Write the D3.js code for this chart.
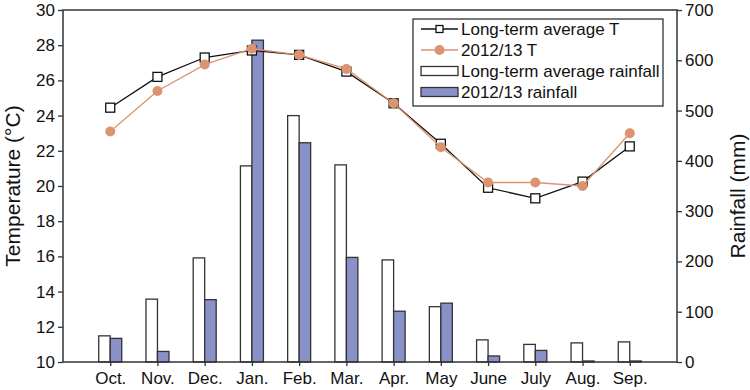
<!DOCTYPE html>
<html>
<head>
<meta charset="utf-8">
<script src="https://cdn.jsdelivr.net/npm/d3@7"></script>
<style>
  body { margin: 0; background: #fff; }
  svg { font-family: "Liberation Sans", Arial, sans-serif; }
</style>
</head>
<body>
<div id="chart"></div>
<script>
// data
const months = ["Oct.", "Nov.", "Dec.", "Jan.", "Feb.", "Mar.", "Apr.", "May", "June", "July", "Aug.", "Sep."]
const tempLongTerm = [24.45, 26.2, 27.3, 27.7, 27.45, 26.5, 24.7, 22.4, 19.9, 19.3, 20.25, 22.25]
const temp2012 = [23.1, 25.4, 26.9, 27.8, 27.45, 26.65, 24.7, 22.2, 20.2, 20.2, 20.0, 23.0]
const rainLongTerm = [52, 125, 207, 390, 490, 392, 203, 110, 44, 35, 38, 40]
const rain2012 = [47, 21, 124, 640, 436, 208, 101, 117, 12, 23, 2, 2]
const tempTicks = [10, 12, 14, 16, 18, 20, 22, 24, 26, 28, 30]
const rainTicks = [0, 100, 200, 300, 400, 500, 600, 700]

const width = 750, height = 390
const margin = { top: 10, right: 73, bottom: 28, left: 63 }
const innerW = width - margin.left - margin.right
const innerH = height - margin.top - margin.bottom

const blue = "#8a90c8"
const orange = "#da9470"
const dark = "#333"

var svg = d3.select("#chart")
    .append("svg")
    .attr("width", width)
    .attr("height", height)

var g = svg.append("g")
    .attr("transform", `translate(${margin.left},${margin.top})`)

var x = d3.scalePoint()
    .domain(months)
    .range([0, innerW])
    .padding(1)

var yT = d3.scaleLinear().domain([10, 30]).range([innerH, 0])
var yR = d3.scaleLinear().domain([0, 700]).range([innerH, 0])

const barW = 11.5

// bars
g.append("g")
    .selectAll("rect")
    .data(months)
    .enter()
    .append("rect")
    .attr("x", d => x(d) - barW)
    .attr("y", (d, i) => yR(rainLongTerm[i]))
    .attr("width", barW)
    .attr("height", (d, i) => innerH - yR(rainLongTerm[i]))
    .attr("fill", "#fff")
    .attr("stroke", dark)
    .attr("stroke-width", 1.3)

g.append("g")
    .selectAll("rect")
    .data(months)
    .enter()
    .append("rect")
    .attr("x", d => x(d))
    .attr("y", (d, i) => yR(rain2012[i]))
    .attr("width", barW)
    .attr("height", (d, i) => innerH - yR(rain2012[i]))
    .attr("fill", blue)
    .attr("stroke", dark)
    .attr("stroke-width", 1.3)

// axes
var fontSize = 17
var leftAxis = g.append("g")
    .call(d3.axisLeft(yT).tickValues(tempTicks).tickSize(5).tickPadding(3))
var rightAxis = g.append("g")
    .attr("transform", `translate(${innerW},0)`)
    .call(d3.axisRight(yR).tickValues(rainTicks).tickSize(5).tickPadding(3))
var bottomAxis = g.append("g")
    .attr("transform", `translate(0,${innerH})`)
    .call(d3.axisBottom(x).tickSize(4).tickPadding(6))

;[leftAxis, rightAxis, bottomAxis].forEach(function (a) {
    a.select(".domain").remove()
    a.selectAll("line").attr("stroke", dark).attr("stroke-width", 1.3)
    a.selectAll("text").attr("fill", "#111").style("font-size", fontSize + "px")
})

// frame
g.append("rect")
    .attr("width", innerW)
    .attr("height", innerH)
    .attr("fill", "none")
    .attr("stroke", dark)
    .attr("stroke-width", 1.5)

// temperature lines
var line = d3.line()
    .x((d, i) => x(months[i]))
    .y(d => yT(d))

g.append("path")
    .datum(tempLongTerm)
    .attr("d", line)
    .attr("fill", "none")
    .attr("stroke", "#111")
    .attr("stroke-width", 1.3)

g.append("g")
    .selectAll("rect")
    .data(tempLongTerm)
    .enter()
    .append("rect")
    .attr("x", (d, i) => x(months[i]) - 4.5)
    .attr("y", d => yT(d) - 4.5)
    .attr("width", 9)
    .attr("height", 9)
    .attr("fill", "#fff")
    .attr("stroke", "#111")
    .attr("stroke-width", 1.3)

g.append("path")
    .datum(temp2012)
    .attr("d", line)
    .attr("fill", "none")
    .attr("stroke", orange)
    .attr("stroke-width", 1.3)

g.append("g")
    .selectAll("circle")
    .data(temp2012)
    .enter()
    .append("circle")
    .attr("cx", (d, i) => x(months[i]))
    .attr("cy", d => yT(d))
    .attr("r", 5)
    .attr("fill", orange)

// axis titles
svg.append("text")
    .attr("transform", "translate(20,186) rotate(-90)")
    .attr("text-anchor", "middle")
    .style("font-size", "21px")
    .attr("fill", "#111")
    .text("Temperature (°C)")

svg.append("text")
    .attr("transform", "translate(745,196) rotate(-90)")
    .attr("text-anchor", "middle")
    .style("font-size", "21px")
    .attr("fill", "#111")
    .text("Rainfall (mm)")

// legend
var legend = svg.append("g").attr("transform", "translate(413,19)")
legend.append("rect")
    .attr("width", 250)
    .attr("height", 87)
    .attr("fill", "#fff")
    .attr("stroke", dark)
    .attr("stroke-width", 1.3)

const legendItems = [
    { label: "Long-term average T", kind: "square" },
    { label: "2012/13 T", kind: "circle" },
    { label: "Long-term average rainfall", kind: "white" },
    { label: "2012/13 rainfall", kind: "blue" }
]

legendItems.forEach(function (item, i) {
    var row = legend.append("g").attr("transform", `translate(0,${10 + i * 21})`)
    if (item.kind === "square" || item.kind === "circle") {
        var c = item.kind === "square" ? "#111" : orange
        row.append("line")
            .attr("x1", 8).attr("x2", 45)
            .attr("stroke", c).attr("stroke-width", 1.3)
        if (item.kind === "square") {
            row.append("rect")
                .attr("x", 23).attr("y", -3.5).attr("width", 7).attr("height", 7)
                .attr("fill", "#fff").attr("stroke", "#111").attr("stroke-width", 1.3)
        } else {
            row.append("circle").attr("cx", 26.5).attr("r", 5).attr("fill", orange)
        }
    } else {
        row.append("rect")
            .attr("x", 8).attr("y", -4.5).attr("width", 37).attr("height", 9)
            .attr("fill", item.kind === "white" ? "#fff" : blue)
            .attr("stroke", dark).attr("stroke-width", 1.3)
    }
    row.append("text")
        .attr("x", 48)
        .attr("dy", "0.35em")
        .style("font-size", fontSize + "px")
        .attr("fill", "#111")
        .text(item.label)
})
</script>
</body>
</html>
